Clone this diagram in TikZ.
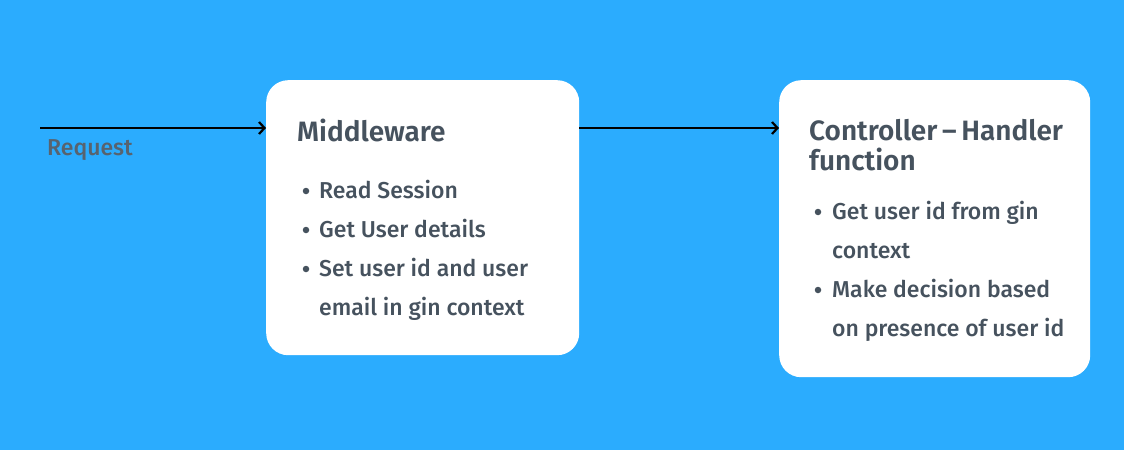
\documentclass[tikz,border=0pt]{standalone}
\usepackage{fontspec}
\setmainfont{Fira Sans}[UprightFont=* Medium, BoldFont=* SemiBold]
\usetikzlibrary{arrows.meta}
\definecolor{bg}{HTML}{2BACFE}
\definecolor{txt}{HTML}{46525E}
\tikzset{
  box/.style={fill=white, draw=none, rounded corners=22pt, anchor=north west, inner sep=0pt},
  title/.style={anchor=base west, inner sep=0pt, text=txt, font=\fontsize{28}{30}\selectfont\bfseries},
  item/.style={anchor=base west, inner sep=0pt, text=txt, font=\fontsize{23}{24}\selectfont},
  dot/.style={circle, fill=txt, inner sep=0pt, minimum size=6.5pt},
  flow/.style={draw=black, line width=2.2pt, -{Straight Barb[length=5.5pt,width=12pt,line width=2.2pt]}},
}
\begin{document}
\begin{tikzpicture}[x=1pt,y=-1pt]
\useasboundingbox (0,0) rectangle (1124,450);
\fill[bg] (0,0) rectangle (1124,450);
% boxes
\node[box, minimum width=313pt, minimum height=275pt] (mw) at (266,80) {};
\node[box, minimum width=311pt, minimum height=297pt] (ctl) at (779,80) {};
% arrows
\coordinate (start) at (40,128);
\draw[flow] (start) -- (start -| mw.west);
\draw[flow] (mw.east |- start) -- (ctl.west |- start);
% request label
\node[item, text=txt!90!white] (req) at (47,155) {Request};
% middleware
\node[title] (mwt) at (297,141) {Middleware};
\node[dot] (d1) at (306,191) {};
\node[item] (m1) at (319,198) {Read Session};
\node[dot] (d2) at (306,230) {};
\node[item] (m2) at (319,237) {Get User details};
\node[dot] (d3) at (306,269) {};
\node[item] (m3) at (319,276) {Set user id and user};
\node[item] (m4) at (319,315) {email in gin context};
% controller
\node[title] (ct1) at (809,140) {Controller\,–\,Handler};
\node[title] (ct2) at (809,170) {function};
\node[dot] (e1) at (818,212) {};
\node[item] (c1) at (832,219) {Get user id from gin};
\node[item] (c2) at (832,258) {context};
\node[dot] (e2) at (818,290) {};
\node[item] (c3) at (832,297) {Make decision based};
\node[item] (c4) at (832,336) {on presence of user id};
\end{tikzpicture}
\end{document}
